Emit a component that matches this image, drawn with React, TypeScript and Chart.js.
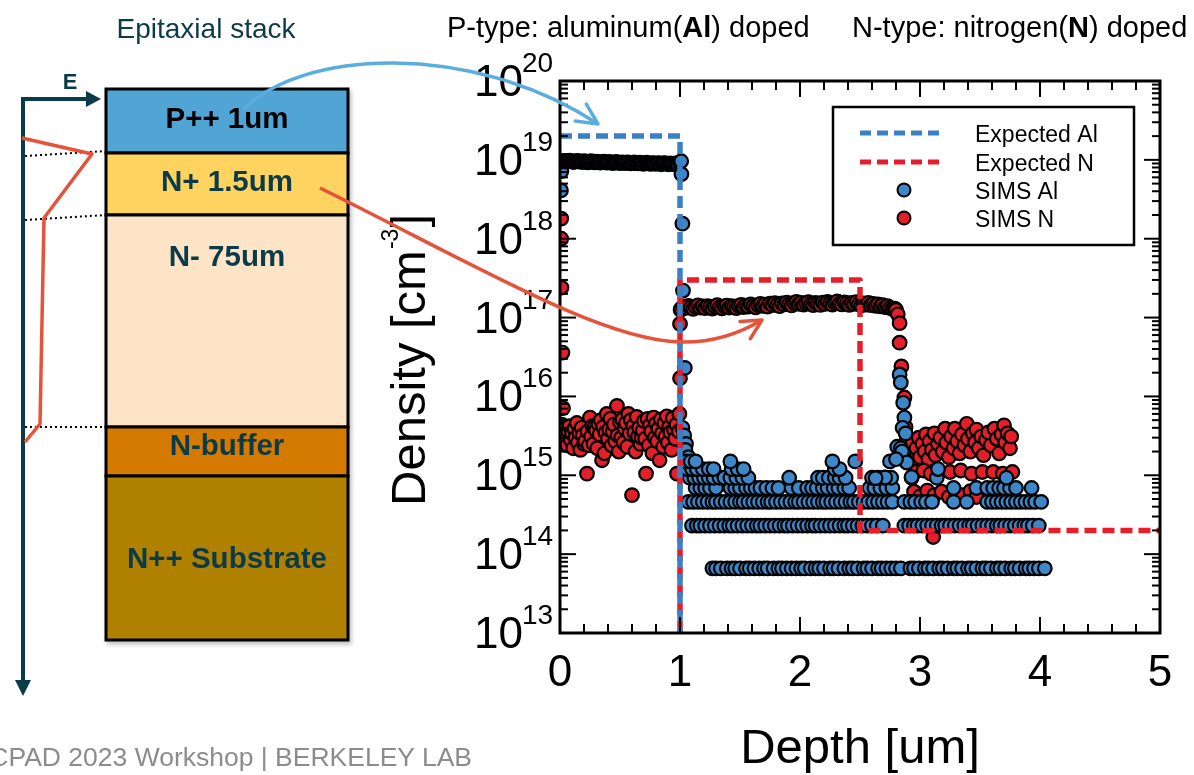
import React, { useEffect, useRef } from 'react';
import { Chart, registerables } from 'chart.js';

Chart.register(...registerables);

type Pt = [number, number];

// ---------------- axis ticks ----------------
const depthTicks = [0, 1, 2, 3, 4, 5];
const densityExponents = [13, 14, 15, 16, 17, 18, 19, 20];

// ---------------- expected profiles ----------------
const expectedAl: Pt[] = [[0, 2e19], [1, 2e19], [1, 1e13]];
const expectedN: Pt[] = [[1, 1e13], [1, 3e17], [2.5, 3e17], [2.5, 2e14], [5, 2e14]];

// ---------------- SIMS Al ----------------
const alSurface: Pt[] = [[0.008, 4.1e18], [0.012, 7.2e18]];
const alPlateau: Pt[] = [
  [0.02, 9.6e18], [0.035, 9.7e18], [0.05, 9.5e18], [0.065, 9.6e18], [0.08, 9.8e18], [0.095, 9.6e18], [0.11, 9.4e18], [0.125, 9.5e18], [0.14, 9.7e18], [0.155, 9.6e18],
  [0.17, 9.5e18], [0.185, 9.4e18], [0.2, 9.6e18], [0.215, 9.5e18], [0.23, 9.3e18], [0.245, 9.5e18], [0.26, 9.6e18], [0.275, 9.4e18], [0.29, 9.3e18], [0.305, 9.5e18],
  [0.32, 9.4e18], [0.335, 9.2e18], [0.35, 9.4e18], [0.365, 9.5e18], [0.38, 9.3e18], [0.395, 9.2e18], [0.41, 9.4e18], [0.425, 9.3e18], [0.44, 9.1e18], [0.455, 9.3e18],
  [0.47, 9.4e18], [0.485, 9.2e18], [0.5, 9.1e18], [0.515, 9.3e18], [0.53, 9.2e18], [0.545, 9.1e18], [0.56, 9.3e18], [0.575, 9.2e18], [0.59, 9.0e18], [0.605, 9.1e18],
  [0.62, 9.3e18], [0.635, 9.1e18], [0.65, 9.0e18], [0.665, 9.2e18], [0.68, 9.1e18], [0.695, 8.9e18], [0.71, 9.1e18], [0.725, 9.2e18], [0.74, 9.0e18], [0.755, 8.9e18],
  [0.77, 9.1e18], [0.785, 9.0e18], [0.8, 8.9e18], [0.815, 9.1e18], [0.83, 9.0e18], [0.845, 8.8e18], [0.86, 9.0e18], [0.875, 9.1e18], [0.89, 8.9e18], [0.905, 8.8e18],
  [0.92, 9.0e18], [0.935, 8.9e18], [0.95, 8.8e18], [0.965, 9.0e18], [0.98, 8.9e18],
];
const alDrop: Pt[] = [
  [0.995, 9.3e18], [1.01, 9.6e18], [1.012, 6.6e18], [1.02, 1.55e18], [1.025, 2.2e17], [1.04, 2.3e16],
  [1.02, 4.0e15], [1.035, 3.2e15], [1.05, 2.5e15], [1.045, 2.1e15], [1.07, 1.7e15],
];
// discrete count-rate floors
const alFloor1Level = 6.6e13;
const alFloor1Depths = [1.27, 1.30, 1.34, 1.39, 1.43, 1.46, 1.50, 1.55, 1.58, 1.62, 1.66, 1.70, 1.73, 1.78, 1.82, 1.85, 1.89, 1.93, 1.97, 2.01, 2.04, 2.09, 2.13, 2.16, 2.20, 2.25, 2.28, 2.32, 2.37, 2.41, 2.44, 2.48, 2.53, 2.56, 2.60, 2.65, 2.68, 2.72, 2.76, 2.80, 2.84, 2.92, 2.95, 2.99, 3.04, 3.07, 3.11, 3.16, 3.19, 3.23, 3.28, 3.31, 3.35, 3.40, 3.43, 3.47, 3.52, 3.55, 3.59, 3.64, 3.67, 3.71, 3.76, 3.79, 3.83, 3.88, 3.91, 3.95, 3.99, 4.04];
const alFloor2Level = 2.3e14;
const alFloor2Depths = [1.10, 1.14, 1.17, 1.21, 1.25, 1.29, 1.33, 1.37, 1.41, 1.44, 1.48, 1.52, 1.56, 1.60, 1.64, 1.67, 1.71, 1.75, 1.79, 1.83, 1.87, 1.90, 1.94, 1.98, 2.02, 2.06, 2.10, 2.13, 2.17, 2.21, 2.25, 2.29, 2.33, 2.37, 2.40, 2.44, 2.48, 2.52, 2.56, 2.60, 2.64, 2.69, 2.87, 2.91, 2.95, 2.98, 3.02, 3.06, 3.10, 3.14, 3.18, 3.21, 3.25, 3.29, 3.33, 3.37, 3.41, 3.44, 3.48, 3.52, 3.56, 3.60, 3.64, 3.67, 3.71, 3.75, 3.79, 3.83, 3.87, 3.90, 3.94, 3.99];
const alFloor3Level = 4.6e14;
const alFloor3Depths = [1.07, 1.11, 1.15, 1.19, 1.23, 1.27, 1.30, 1.34, 1.38, 1.42, 1.46, 1.50, 1.53, 1.57, 1.61, 1.65, 1.69, 1.73, 1.76, 1.80, 1.84, 1.88, 1.92, 1.96, 1.99, 2.03, 2.07, 2.11, 2.15, 2.19, 2.22, 2.26, 2.30, 2.34, 2.38, 2.42, 2.45, 2.49, 2.53, 2.57, 2.61, 2.65, 2.69, 2.73, 2.77, 2.87, 2.92, 2.96, 3.01, 3.05, 3.10, 3.28, 3.39, 3.56, 3.60, 3.64, 3.68, 3.72, 3.76, 3.80, 3.84, 3.88, 3.92, 3.96, 4.01];
const alFloor4Level = 6.9e14;
const alFloor4Depths = [1.13, 1.17, 1.21, 1.25, 1.30, 1.42, 1.46, 1.50, 1.55, 1.59, 1.63, 1.67, 1.72, 1.77, 1.82, 1.93, 1.99, 2.06, 2.10, 2.14, 2.19, 2.23, 2.28, 2.32, 2.37, 2.41, 2.58, 2.62, 2.67, 2.72, 2.77, 3.28, 3.47, 3.56, 3.61, 3.66, 3.70, 3.75, 3.80, 3.93];
const alFloor5Level = 9.3e14;
const alFloor5Depths = [1.08, 1.12, 1.16, 1.20, 1.24, 1.28, 1.33, 1.37, 1.42, 1.47, 1.52, 1.57, 1.91, 2.15, 2.19, 2.24, 2.29, 2.33, 2.38, 2.60, 2.65, 2.70, 2.76, 2.93, 3.14, 3.72];
const alFloor6Level = 1.2e15;
const alFloor6Depths = [1.06, 1.10, 1.14, 1.19, 1.24, 1.28, 1.43, 1.48, 1.53, 2.29, 2.33, 3.15];
const alFloor7Level = 1.5e15;
const alFloor7Depths = [1.05, 1.09, 1.13, 1.42, 2.27, 2.46, 2.75, 2.89];
const alBump: Pt[] = [
  [2.81, 2.3e15], [2.83, 1.9e16], [2.84, 1.5e16], [2.86, 8.3e15], [2.87, 5.4e15], [2.855, 4.0e15], [2.88, 3.4e15],
  [2.84, 2.2e15], [2.85, 2.0e15], [2.89, 1.45e15], [2.80, 1.6e15], [2.93, 9.5e14], [2.71, 9.4e14], [2.63, 9.2e14],
];

// ---------------- SIMS N ----------------
const nSurface: Pt[] = [[0.01, 1.8e18], [0.01, 1.0e18], [0.012, 2.4e17], [0.02, 3.6e16], [0.025, 7.1e15]];
const nShallow: Pt[] = [
  [0.00, 3.8e15], [0.01, 2.9e15], [0.015, 4.4e15], [0.02, 3.3e15], [0.03, 2.6e15], [0.04, 3.9e15], [0.05, 3.1e15], [0.06, 2.4e15], [0.07, 3.6e15], [0.08, 4.2e15],
  [0.09, 2.8e15], [0.10, 3.4e15], [0.11, 2.2e15], [0.12, 3.9e15], [0.13, 3.0e15], [0.14, 4.6e15], [0.15, 2.6e15], [0.16, 3.5e15], [0.17, 2.1e15], [0.18, 4.0e15],
  [0.19, 3.2e15], [0.20, 2.5e15], [0.21, 2.7e15], [0.225, 1.05e15], [0.23, 3.6e15], [0.24, 2.4e15], [0.25, 5.4e15], [0.26, 3.1e15], [0.27, 4.2e15], [0.28, 2.5e15],
  [0.29, 4.1e15], [0.30, 3.7e15], [0.31, 2.2e15], [0.32, 4.5e15], [0.33, 3.3e15], [0.34, 5.0e15], [0.35, 1.55e15], [0.36, 4.1e15], [0.37, 1.9e15], [0.38, 3.5e15],
  [0.39, 6.0e15], [0.40, 2.9e15], [0.41, 3.8e15], [0.42, 5.2e15], [0.43, 2.4e15], [0.44, 3.6e15], [0.45, 4.4e15], [0.46, 2.7e15], [0.475, 7.6e15], [0.48, 3.2e15],
  [0.49, 2.0e15], [0.50, 4.7e15], [0.51, 3.0e15], [0.52, 5.1e15], [0.53, 2.6e15], [0.54, 3.9e15], [0.55, 4.6e15], [0.56, 2.3e15], [0.57, 6.0e15], [0.58, 3.4e15],
  [0.59, 5.0e15], [0.60, 5.6e14], [0.61, 4.2e15], [0.62, 3.5e15], [0.63, 2.0e15], [0.64, 5.5e15], [0.65, 3.1e15], [0.66, 4.0e15], [0.67, 2.5e15], [0.68, 3.0e15],
  [0.69, 3.7e15], [0.70, 4.9e15], [0.71, 2.9e15], [0.717, 1.05e15], [0.73, 5.2e15], [0.74, 2.4e15], [0.75, 4.3e15], [0.76, 3.6e15], [0.77, 1.9e15], [0.78, 5.4e15],
  [0.79, 3.0e15], [0.80, 4.5e15], [0.81, 2.7e15], [0.82, 3.9e15], [0.83, 1.55e15], [0.84, 5.1e15], [0.85, 3.4e15], [0.86, 2.3e15], [0.87, 4.6e15], [0.88, 3.1e15],
  [0.89, 5.6e15], [0.90, 2.6e15], [0.91, 4.1e15], [0.92, 3.5e15], [0.93, 2.1e15], [0.94, 5.3e15], [0.95, 3.8e15], [0.96, 2.9e15], [0.97, 4.4e15], [0.975, 1.05e15],
  [0.99, 3.6e15],
];
const nRise: Pt[] = [[0.995, 6.0e15], [1.0, 1.7e16], [1.0, 8.3e16], [1.005, 1.25e17]];
const nPlateau: Pt[] = [
  [1.01, 1.30e17], [1.03, 1.38e17], [1.05, 1.33e17], [1.07, 1.41e17], [1.09, 1.35e17], [1.11, 1.29e17], [1.13, 1.37e17], [1.15, 1.43e17], [1.17, 1.34e17], [1.19, 1.39e17],
  [1.21, 1.32e17], [1.23, 1.40e17], [1.25, 1.36e17], [1.27, 1.30e17], [1.29, 1.38e17], [1.31, 1.44e17], [1.33, 1.35e17], [1.35, 1.31e17], [1.37, 1.39e17], [1.39, 1.42e17],
  [1.41, 1.34e17], [1.43, 1.40e17], [1.45, 1.37e17], [1.47, 1.32e17], [1.49, 1.41e17], [1.51, 1.45e17], [1.53, 1.36e17], [1.55, 1.42e17], [1.57, 1.38e17], [1.59, 1.47e17],
  [1.61, 1.40e17], [1.63, 1.35e17], [1.65, 1.44e17], [1.67, 1.49e17], [1.69, 1.41e17], [1.71, 1.46e17], [1.73, 1.38e17], [1.75, 1.50e17], [1.77, 1.44e17], [1.79, 1.52e17],
  [1.81, 1.45e17], [1.83, 1.40e17], [1.85, 1.51e17], [1.87, 1.47e17], [1.89, 1.55e17], [1.91, 1.48e17], [1.93, 1.43e17], [1.95, 1.53e17], [1.97, 1.58e17], [1.99, 1.49e17],
  [2.01, 1.54e17], [2.03, 1.46e17], [2.05, 1.52e17], [2.07, 1.57e17], [2.09, 1.48e17], [2.11, 1.44e17], [2.13, 1.53e17], [2.15, 1.50e17], [2.17, 1.45e17], [2.19, 1.55e17],
  [2.21, 1.49e17], [2.23, 1.58e17], [2.25, 1.51e17], [2.27, 1.46e17], [2.29, 1.55e17], [2.31, 1.60e17], [2.33, 1.50e17], [2.35, 1.47e17], [2.37, 1.56e17], [2.39, 1.52e17],
  [2.41, 1.45e17], [2.43, 1.53e17], [2.45, 1.49e17], [2.47, 1.57e17], [2.49, 1.48e17], [2.51, 1.43e17], [2.53, 1.51e17], [2.55, 1.46e17], [2.57, 1.53e17], [2.59, 1.44e17],
  [2.61, 1.49e17], [2.63, 1.41e17], [2.65, 1.47e17], [2.67, 1.39e17], [2.69, 1.44e17], [2.71, 1.36e17], [2.73, 1.40e17], [2.75, 1.33e17], [2.77, 1.29e17], [2.79, 1.30e17],
];
const nDrop: Pt[] = [
  [2.80, 1.25e17], [2.815, 1.1e17], [2.83, 8.5e16], [2.83, 4.8e16], [2.845, 2.4e16], [2.87, 9.7e15], [2.88, 4.1e15], [2.89, 3.0e15],
];
const nDeep: Pt[] = [
  [2.92, 1.9e15], [2.94, 2.6e15], [2.95, 1.6e15], [2.97, 2.2e15], [2.99, 3.0e15], [3.00, 1.7e15], [3.02, 2.5e15], [3.04, 2.0e15], [3.05, 3.3e15], [3.07, 1.6e15],
  [3.08, 2.7e15], [3.10, 2.1e15], [3.12, 3.4e15], [3.13, 1.8e15], [3.15, 2.5e15], [3.17, 3.0e15], [3.19, 2.0e15], [3.21, 3.9e15], [3.22, 2.6e15], [3.24, 1.7e15],
  [3.26, 3.1e15], [3.28, 2.2e15], [3.29, 3.9e15], [3.31, 2.7e15], [3.33, 1.9e15], [3.35, 3.3e15], [3.37, 2.4e15], [3.39, 4.5e15], [3.40, 2.9e15], [3.42, 2.0e15],
  [3.44, 3.4e15], [3.46, 2.6e15], [3.47, 3.8e15], [3.49, 2.2e15], [3.51, 3.1e15], [3.53, 1.8e15], [3.55, 2.8e15], [3.57, 3.5e15], [3.59, 2.4e15], [3.62, 3.9e15],
  [3.64, 2.9e15], [3.66, 1.9e15], [3.68, 3.3e15], [3.70, 4.3e15], [3.71, 2.6e15], [3.73, 3.4e15], [3.75, 2.2e15], [3.76, 3.1e15],
  [2.96, 1.1e15], [3.03, 1.15e15], [3.09, 1.05e15], [3.16, 1.1e15], [3.25, 1.1e15], [3.34, 1.15e15], [3.43, 1.05e15], [3.52, 1.1e15], [3.61, 1.1e15], [3.69, 1.05e15], [3.77, 1.1e15],
  [2.95, 6.2e14], [3.00, 5.4e14], [3.06, 6.4e14], [3.12, 5.6e14], [3.18, 6.2e14], [3.24, 5.3e14], [3.30, 6.0e14], [3.36, 5.6e14], [3.42, 6.3e14], [3.47, 5.3e14],
  [3.11, 1.65e14],
];

// ---------------- styling ----------------
const FONT = "'Liberation Sans', Arial, Helvetica, sans-serif";
const BLUE_LINE = '#3b80c3';
const RED_LINE = '#e61e2a';
const BLUE_PT = '#3d87c8';
const RED_PT = '#e3202a';
const DARK = '#0b3a48';
const ARROW_RED = '#e4533a';
const ARROW_BLUE = '#5badde';
const MARKER_R = 6.8;

const toXY = (pts: Pt[]) => pts.map(([x, y]) => ({ x, y }));
const level = (depths: number[], v: number): Pt[] => depths.map((d) => [d, v] as Pt);

const simsAl: Pt[] = [
  ...alSurface, ...alPlateau, ...alDrop,
  ...level(alFloor1Depths, alFloor1Level), ...level(alFloor2Depths, alFloor2Level),
  ...level(alFloor3Depths, alFloor3Level), ...level(alFloor4Depths, alFloor4Level),
  ...level(alFloor5Depths, alFloor5Level), ...level(alFloor6Depths, alFloor6Level),
  ...level(alFloor7Depths, alFloor7Level), ...alBump,
];
const simsN: Pt[] = [...nSurface, ...nShallow, ...nRise, ...nPlateau, ...nDrop, ...nDeep];

const decorPlugin = {
  id: 'decor',
  afterDatasetsDraw(chart: any) {
    const ctx = chart.ctx as CanvasRenderingContext2D;
    const { left, right, top, bottom } = chart.chartArea;
    const xs = chart.scales.x;
    const ys = chart.scales.y;
    const seg = (x1: number, y1: number, x2: number, y2: number) => {
      ctx.beginPath(); ctx.moveTo(x1, y1); ctx.lineTo(x2, y2); ctx.stroke();
    };
    ctx.save();
    ctx.strokeStyle = '#000';
    ctx.lineWidth = 2;
    // x ticks (inward, top and bottom)
    depthTicks.forEach((v, i) => {
      const px = xs.getPixelForValue(v);
      seg(px, bottom, px, bottom - 16);
      seg(px, top, px, top + 16);
      if (i < depthTicks.length - 1) {
        for (let k = 1; k < 5; k++) {
          const mx = xs.getPixelForValue(v + (k * (depthTicks[i + 1] - v)) / 5);
          seg(mx, bottom, mx, bottom - 9);
          seg(mx, top, mx, top + 9);
        }
      }
    });
    // y ticks (inward, left and right)
    densityExponents.forEach((e, i) => {
      const py = ys.getPixelForValue(Math.pow(10, e));
      seg(left, py, left + 16, py);
      seg(right, py, right - 16, py);
      if (i < densityExponents.length - 1) {
        for (let m = 2; m <= 9; m++) {
          const my = ys.getPixelForValue(m * Math.pow(10, e));
          seg(left, my, left + 8, my);
          seg(right, my, right - 8, my);
        }
      }
    });
    // frame
    ctx.lineWidth = 3;
    ctx.strokeRect(left, top, right - left, bottom - top);

    // tick labels
    ctx.fillStyle = '#000';
    ctx.font = `44px ${FONT}`;
    ctx.textAlign = 'center';
    ctx.textBaseline = 'alphabetic';
    depthTicks.forEach((v) => {
      ctx.fillText(String(v), xs.getPixelForValue(v), bottom + 53);
    });
    densityExponents.forEach((e) => {
      const py = ys.getPixelForValue(Math.pow(10, e));
      ctx.font = `44px ${FONT}`;
      ctx.textAlign = 'right';
      ctx.fillText('10', left - 37, py + 15);
      ctx.font = `28px ${FONT}`;
      ctx.textAlign = 'left';
      ctx.fillText(String(e), left - 38, py - 9);
    });

    // axis titles
    ctx.font = `49px ${FONT}`;
    ctx.textAlign = 'center';
    ctx.fillText('Depth [um]', (left + right) / 2, bottom + 130);
    ctx.save();
    ctx.translate(left - 135, 506);
    ctx.rotate(-Math.PI / 2);
    ctx.textAlign = 'left';
    ctx.font = `49px ${FONT}`;
    const t1 = 'Density [cm';
    ctx.fillText(t1, 0, 0);
    const w1 = ctx.measureText(t1).width;
    ctx.font = `23px ${FONT}`;
    ctx.fillText('-3', w1 + 1, -27);
    const w2 = ctx.measureText('-3').width;
    ctx.font = `49px ${FONT}`;
    ctx.fillText(']', w1 + w2 + 2, 0);
    ctx.restore();

    // legend
    const bx = 833, by = 107, bw = 301, bh = 138;
    ctx.fillStyle = '#fff';
    ctx.fillRect(bx, by, bw, bh);
    ctx.lineWidth = 2.5;
    ctx.strokeStyle = '#000';
    ctx.strokeRect(bx, by, bw, bh);
    const rows = [133, 162, 190, 218];
    chart.data.datasets.forEach((ds: any, i: number) => {
      const ry = rows[i];
      if (ds.showLine) {
        ctx.save();
        ctx.strokeStyle = ds.borderColor;
        ctx.lineWidth = 5;
        ctx.setLineDash([11, 6]);
        seg(860, ry, 944, ry);
        ctx.restore();
      } else {
        ctx.beginPath();
        ctx.arc(904, ry, 6.5, 0, Math.PI * 2);
        ctx.fillStyle = ds.pointBackgroundColor;
        ctx.fill();
        ctx.lineWidth = 2;
        ctx.strokeStyle = '#000';
        ctx.stroke();
      }
      ctx.fillStyle = '#000';
      ctx.font = `23px ${FONT}`;
      ctx.textAlign = 'left';
      ctx.fillText(ds.label, 975, ry + 9);
    });
    ctx.restore();
  },
};

const layers = [
  { label: 'P++ 1um', top: 89, bottom: 153, fill: '#51a5d5', color: '#000', base: 128 },
  { label: 'N+ 1.5um', top: 153, bottom: 215, fill: '#fed35f', color: DARK, base: 191 },
  { label: 'N- 75um', top: 215, bottom: 427, fill: '#fee4c6', color: DARK, base: 266 },
  { label: 'N-buffer', top: 427, bottom: 476, fill: '#d57a00', color: DARK, base: 455 },
  { label: 'N++ Substrate', top: 476, bottom: 640, fill: '#b08000', color: DARK, base: 568 },
];

function chevron(tx: number, ty: number, angleDeg: number, len: number, half: number) {
  const back = ((angleDeg + 180) * Math.PI) / 180;
  const h = (half * Math.PI) / 180;
  const a = [tx + len * Math.cos(back - h), ty + len * Math.sin(back - h)];
  const b = [tx + len * Math.cos(back + h), ty + len * Math.sin(back + h)];
  return `M ${a[0]} ${a[1]} L ${tx} ${ty} L ${b[0]} ${b[1]}`;
}

function Overlay() {
  return (
    <svg width={1194} height={775} style={{ position: 'absolute', left: 0, top: 0, pointerEvents: 'none' }}
      fontFamily={FONT}>
      <defs>
        <filter id="sh" x="-10%" y="-10%" width="130%" height="130%">
          <feDropShadow dx="2" dy="3" stdDeviation="2" floodOpacity="0.25" />
        </filter>
      </defs>
      {/* headers */}
      <text x={206} y={38} textAnchor="middle" fontSize={28} fill={DARK}>Epitaxial stack</text>
      <text x={447} y={37} fontSize={29} fill="#000">P-type: aluminum(<tspan fontWeight="bold">Al</tspan>) doped</text>
      <text x={852} y={37} fontSize={29} fill="#000">N-type: nitrogen(<tspan fontWeight="bold">N</tspan>) doped</text>
      {/* footer */}
      <text x={472} y={766} textAnchor="end" fontSize={26.5} fill="#8c8c8c">CPAD 2023 Workshop | BERKELEY LAB</text>

      {/* stack */}
      <g filter="url(#sh)">
        {layers.map((l) => (
          <rect key={l.label} x={106} y={l.top} width={242} height={l.bottom - l.top} fill={l.fill} stroke="#000" strokeWidth={3} />
        ))}
      </g>
      {layers.map((l) => (
        <text key={'t' + l.label} x={227} y={l.base} textAnchor="middle" fontSize={29.5} fontWeight="bold" fill={l.color}>{l.label}</text>
      ))}

      {/* field axis */}
      <line x1={23} y1={97} x2={23} y2={682} stroke={DARK} strokeWidth={4} />
      <polygon points="15,680 31,680 23,696" fill={DARK} />
      <line x1={21} y1={99} x2={88} y2={99} stroke={DARK} strokeWidth={4} />
      <polygon points="86,91 86,107 101,99" fill={DARK} />
      <text x={70} y={89} textAnchor="middle" fontSize={22} fontWeight="bold" fill={DARK}>E</text>
      <line x1={25} y1={156} x2={106} y2={151} stroke="#000" strokeWidth={2} strokeDasharray="2 3" />
      <line x1={25} y1={220} x2={106} y2={215} stroke="#000" strokeWidth={2} strokeDasharray="2 3" />
      <line x1={25} y1={427} x2={106} y2={427} stroke="#000" strokeWidth={2} strokeDasharray="2 3" />
      <polyline points="22,138 92,154 44,218 40,424 25,442" fill="none" stroke={ARROW_RED} strokeWidth={3.5} strokeLinejoin="round" />

      {/* arrows */}
      <path d="M 243 110 C 300 50, 470 40, 598 124" fill="none" stroke={ARROW_BLUE} strokeWidth={3.5} />
      <path d={chevron(598, 124, 33.5, 23, 26)} fill="none" stroke={ARROW_BLUE} strokeWidth={3.5} strokeLinecap="round" strokeLinejoin="round" />
      <path d="M 320 188 C 470 262, 600 340, 680 342 C 715 343, 742 332, 762 320" fill="none" stroke={ARROW_RED} strokeWidth={3.5} />
      <path d={chevron(762, 320, -31, 22, 27)} fill="none" stroke={ARROW_RED} strokeWidth={3.5} strokeLinecap="round" strokeLinejoin="round" />
    </svg>
  );
}

export default function App() {
  const ref = useRef<HTMLCanvasElement | null>(null);
  useEffect(() => {
    if (!ref.current) return;
    const chart = new Chart(ref.current, {
      type: 'scatter',
      data: {
        datasets: [
          {
            label: 'Expected Al', data: toXY(expectedAl), showLine: true, borderColor: BLUE_LINE,
            backgroundColor: BLUE_LINE, borderWidth: 5.5, borderDash: [12, 6], pointRadius: 0,
            borderJoinStyle: 'round', clip: 0,
          },
          {
            label: 'Expected N', data: toXY(expectedN), showLine: true, borderColor: RED_LINE,
            backgroundColor: RED_LINE, borderWidth: 5.5, borderDash: [12, 6], pointRadius: 0,
            borderJoinStyle: 'round', clip: 0,
          },
          {
            label: 'SIMS Al', data: toXY(simsAl), showLine: false, pointRadius: MARKER_R,
            pointBackgroundColor: BLUE_PT, pointBorderColor: '#000', pointBorderWidth: 2.2,
            backgroundColor: BLUE_PT, borderColor: '#000', clip: 0,
          },
          {
            label: 'SIMS N', data: toXY(simsN), showLine: false, pointRadius: MARKER_R,
            pointBackgroundColor: RED_PT, pointBorderColor: '#000', pointBorderWidth: 2.2,
            backgroundColor: RED_PT, borderColor: '#000', clip: 0,
          },
        ],
      } as any,
      options: {
        responsive: false,
        animation: false,
        devicePixelRatio: 1,
        events: [],
        layout: { padding: { left: 560, right: 34, top: 81, bottom: 142 } },
        scales: {
          x: { type: 'linear', min: 0, max: 5, display: false },
          y: { type: 'logarithmic', min: 1e13, max: 1e20, display: false },
        },
        plugins: { legend: { display: false }, tooltip: { enabled: false }, title: { display: false } },
      } as any,
      plugins: [decorPlugin],
    });
    return () => chart.destroy();
  }, []);

  return (
    <div style={{ position: 'absolute', left: 0, top: 0, width: 1194, height: 775, background: '#fff', overflow: 'hidden' }}>
      <canvas ref={ref} width={1194} height={775} style={{ position: 'absolute', left: 0, top: 0, width: 1194, height: 775 }} />
      <Overlay />
    </div>
  );
}
